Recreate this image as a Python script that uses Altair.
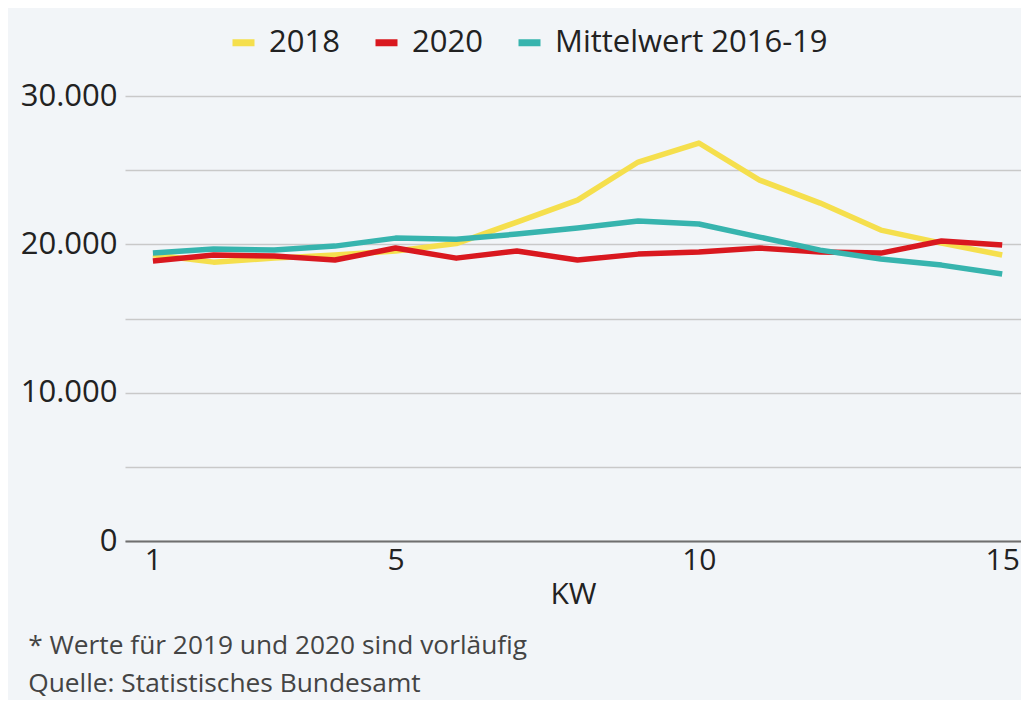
import altair as alt
import pandas as pd

weeks = list(range(1, 16))
y2018 = [19300, 18800, 19070, 19280, 19550, 20050, 21500, 22980, 25550, 26830, 24330, 22780, 20960, 20080, 19280]
y2020 = [18870, 19280, 19210, 18940, 19750, 19070, 19550, 18940, 19340, 19480, 19750, 19480, 19410, 20220, 19950]
ymean = [19410, 19680, 19610, 19880, 20420, 20350, 20690, 21100, 21570, 21370, 20490, 19610, 19010, 18600, 18000]
series = ["2018", "2020", "Mittelwert 2016-19"]
colors = ["#f5df4d", "#d9181f", "#37b4ae"]

rows = []
for name, vals in zip(series, [y2018, y2020, ymean]):
    for w, v in zip(weeks, vals):
        rows.append({"KW": w, "Wert": v, "Serie": name})
df = pd.DataFrame(rows)

FONT = "Open Sans"

chart = alt.Chart(df).mark_line(strokeWidth=5.5, strokeJoin="round").encode(
    x=alt.X("KW:Q",
            scale=alt.Scale(domain=[0.54, 15.31], nice=False, zero=False),
            axis=alt.Axis(values=[1, 5, 10, 15], title="KW", grid=False, ticks=False,
                          domain=True, domainColor="#6f6f6f", domainWidth=2,
                          labelFontSize=30, labelPadding=4, labelColor="#222222",
                          titleFontSize=30, titleFontWeight="normal", titleColor="#222222",
                          titlePadding=4, labelFlush=False)),
    y=alt.Y("Wert:Q",
            scale=alt.Scale(domain=[0, 30000], nice=False),
            axis=alt.Axis(values=[0, 5000, 10000, 15000, 20000, 25000, 30000], title=None,
                          labelExpr="datum.value % 10000 === 0 ? replace(format(datum.value, ','), ',', '.') : ''",
                          ticks=False, domain=False, gridColor="#c9c9c9", gridWidth=1.5,
                          labelFontSize=31, labelPadding=8, labelColor="#222222")),
    color=alt.Color("Serie:N",
                    scale=alt.Scale(domain=series, range=colors),
                    legend=alt.Legend(title=None, orient="none", direction="horizontal",
                                      legendX=103, legendY=-69,
                                      symbolType="stroke", symbolSize=484,
                                      symbolStrokeWidth=7,
                                      labelFontSize=31, labelColor="#222222",
                                      labelOffset=10, columnPadding=21,
                                      labelLimit=400)),
    order=alt.Order("KW:Q"),
).properties(
    width=896,
    height=445,
    autosize=alt.AutoSizeParams(type="none"),
    padding={"left": 117, "top": 88, "right": 0, "bottom": 159},
    title=alt.TitleParams(
        text="* Werte für 2019 und 2020 sind vorläufig",
        subtitle="Quelle: Statistisches Bundesamt",
        orient="bottom", anchor="start", dx=8, offset=24,
        fontSize=26.3, fontWeight="normal", color="#444444",
        subtitleFontSize=26.3, subtitleColor="#444444", subtitlePadding=12,
        font=FONT, subtitleFont=FONT,
    ),
).configure(
    font=FONT,
    background="#f2f5f8",
).configure_view(
    stroke=None,
)

chart.save("out.html", embed_options={"renderer": "svg", "actions": False})
